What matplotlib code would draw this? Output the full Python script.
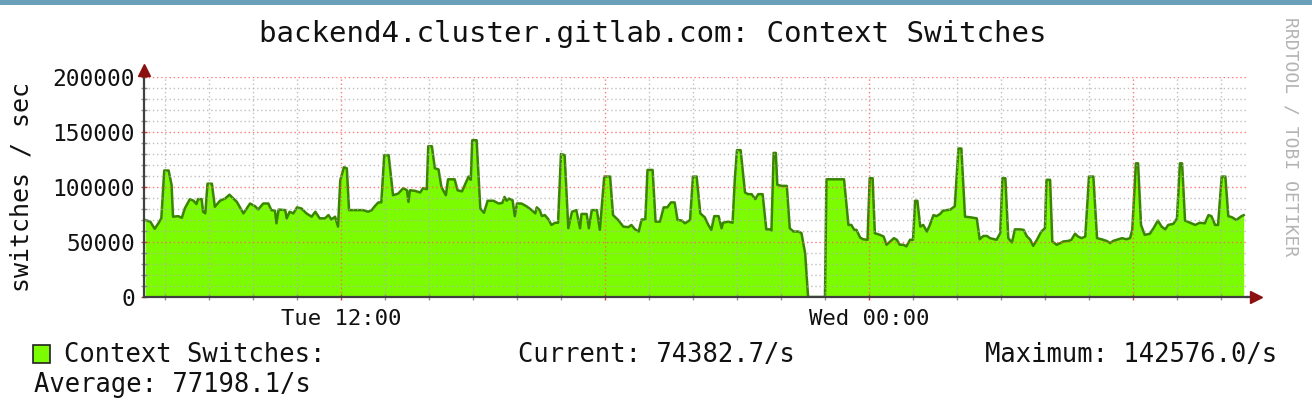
import matplotlib
matplotlib.use("Agg")
import matplotlib.pyplot as plt
from matplotlib.patches import Rectangle
from matplotlib.ticker import MultipleLocator, FixedLocator

# ---------------- data ----------------
title = "backend4.cluster.gitlab.com: Context Switches"
y_label = "switches / sec"
series_name = "Context Switches:"
current_txt = "Current: 74382.7/s"
average_txt = "Average: 77198.1/s"
maximum_txt = "Maximum: 142576.0/s"
watermark = "RRDTOOL / TOBI OETIKER"

# minutes since Tue 00:00
minutes = [453, 460, 466, 471, 475, 479, 485, 489, 491, 498, 503, 507, 514, 519, 523, 525, 530, 532, 535, 538,
           544, 548, 555, 562, 568, 571, 578, 587, 596, 603, 607, 614, 621, 625, 630, 632, 635, 644, 646, 650,
           655, 660, 666, 673, 680, 685, 691, 698, 703, 707, 712, 716, 719, 724, 728, 731, 741, 750, 757, 762,
           766, 771, 775, 779, 785, 791, 798, 805, 810, 812, 814, 821, 828, 832, 837, 839, 844, 848, 853, 857,
           863, 866, 875, 879, 885, 889, 894, 897, 899, 905, 910, 915, 920, 928, 935, 940, 943, 946, 949, 954,
           957, 960, 966, 973, 980, 985, 987, 991, 994, 998, 1003, 1007, 1012, 1016, 1020, 1025, 1030, 1035, 1041, 1046,
           1048, 1055, 1058, 1062, 1069, 1073, 1079, 1087, 1091, 1098, 1105, 1112, 1116, 1121, 1126, 1130, 1135, 1138, 1145, 1149,
           1155, 1160, 1165, 1170, 1175, 1179, 1185, 1189, 1196, 1200, 1205, 1210, 1216, 1221, 1225, 1229, 1235, 1239, 1241, 1248,
           1254, 1257, 1260, 1265, 1271, 1275, 1280, 1285, 1289, 1295, 1300, 1305, 1307, 1310, 1313, 1315, 1321, 1328, 1332, 1337,
           1344, 1348, 1353, 1357, 1380, 1382, 1406, 1412, 1416, 1420, 1423, 1428, 1432, 1438, 1441, 1445, 1448, 1455, 1460, 1464,
           1469, 1474, 1478, 1482, 1487, 1491, 1496, 1500, 1503, 1506, 1510, 1514, 1519, 1523, 1528, 1532, 1537, 1541, 1546, 1551,
           1557, 1562, 1566, 1571, 1578, 1587, 1591, 1596, 1601, 1605, 1614, 1619, 1622, 1626, 1630, 1635, 1639, 1646, 1651, 1655,
           1660, 1664, 1669, 1675, 1680, 1682, 1687, 1690, 1696, 1701, 1705, 1712, 1716, 1721, 1725, 1730, 1735, 1740, 1746, 1751,
           1757, 1764, 1769, 1773, 1778, 1785, 1791, 1796, 1799, 1804, 1807, 1811, 1816, 1823, 1828, 1834, 1839, 1844, 1848, 1855,
           1860, 1864, 1867, 1871, 1878, 1885, 1891, 1898, 1903, 1907, 1912, 1916, 1921, 1926, 1930, 1935, 1941, 1948, 1951]

switches = [70000, 68500, 62000, 67000, 71500, 115000, 115000, 102000, 73000, 73500, 72000, 80500, 89000, 87500, 84500, 89000, 89000, 77500, 76000, 103000,
            103000, 82000, 87500, 89500, 93000, 91000, 86500, 76000, 85000, 82500, 79500, 85000, 85000, 79000, 78500, 67000, 79500, 79000, 71500, 77500,
            76000, 81500, 80500, 76000, 73000, 77500, 71500, 71500, 74500, 70500, 73000, 64000, 106000, 118000, 117000, 79000, 79000, 79000, 77500, 79000,
            82500, 86000, 86000, 129000, 129000, 92500, 94000, 99000, 97000, 86500, 97000, 96500, 95000, 99000, 98000, 137000, 137000, 117000, 116000, 100000,
            92500, 107000, 107000, 97000, 96000, 102000, 109500, 106500, 142500, 142500, 80500, 76500, 87500, 87500, 85000, 85500, 91000, 87500, 89500, 88000,
            73500, 85000, 85000, 82500, 79000, 76000, 81500, 79000, 73500, 74500, 70500, 65500, 67500, 67500, 130000, 129000, 62500, 77500, 79000, 62500,
            75500, 75500, 62500, 79000, 79000, 61000, 109500, 109500, 74500, 70000, 64000, 63500, 65500, 61500, 59500, 70500, 70500, 115500, 115500, 68500,
            68500, 81500, 81500, 86000, 86000, 70000, 69500, 67000, 70000, 109500, 109500, 76000, 72500, 65500, 61000, 73500, 73500, 62500, 67500, 68500,
            67500, 106500, 133500, 133500, 95000, 93500, 93500, 89000, 93500, 93500, 61500, 61500, 60500, 131000, 131000, 102000, 101000, 101000, 62500, 59500,
            59500, 58000, 39500, 0, 0, 107000, 107000, 65500, 65500, 61000, 61000, 54000, 52500, 52000, 108000, 108000, 58000, 56500, 55000, 47500,
            50500, 53500, 52000, 47500, 47500, 46000, 52000, 52000, 87500, 87500, 64000, 65500, 59500, 65500, 74500, 73500, 75500, 78500, 79000, 79500,
            82500, 135000, 135000, 73000, 72500, 71500, 52500, 55500, 55500, 53500, 52000, 58000, 108000, 108000, 53500, 49500, 61500, 61500, 61000, 55500,
            52000, 46500, 52000, 59500, 62500, 106500, 106500, 50500, 47500, 49000, 50500, 51000, 52000, 57500, 55000, 53500, 55000, 109500, 109500, 53500,
            52500, 51000, 49000, 51000, 52000, 53500, 52500, 53500, 61000, 121500, 121500, 65500, 56500, 57500, 62500, 69500, 64000, 61500, 65500, 66500,
            71500, 121500, 121500, 69500, 67500, 65500, 67500, 67000, 74500, 73500, 65500, 65500, 109500, 109500, 73500, 72500, 70000, 73500, 74382]

y_ticks = [0, 50000, 100000, 150000, 200000]
y_tick_labels = ["0", "50000", "100000", "150000", "200000"]
x_major = [720, 1080, 1440, 1800]
x_major_labels = ["Tue 12:00", "", "Wed 00:00", ""]

# ---------------- layout ----------------
W, H = 1312, 416
fig = plt.figure(figsize=(W / 100, H / 100), dpi=100)
fig.patch.set_facecolor("white")
mono = "DejaVu Sans Mono"


def fx(px):
    return px / W


def fy(py):
    return 1 - py / H


# top blue strip
fig.add_artist(Rectangle((0, fy(5)), 1, 5 / H, transform=fig.transFigure,
                         facecolor="#6a9fb8", edgecolor="none"))

left, right, top, bottom = 144, 1247, 77, 297
ax = fig.add_axes([fx(left), fy(bottom), (right - left) / W, (bottom - top) / H])
ax.set_facecolor("white")

ax.fill_between(minutes, switches, 0, color="#7cfc00", lw=0, zorder=1)
ax.plot(minutes, switches, color="#3a8500", lw=1.8, zorder=2)

ax.set_xlim(451.4, 1955.5)
ax.set_ylim(0, 200000)

ax.yaxis.set_major_locator(FixedLocator(y_ticks))
ax.set_yticklabels(y_tick_labels)
ax.yaxis.set_minor_locator(MultipleLocator(10000))
ax.xaxis.set_major_locator(FixedLocator(x_major))
ax.set_xticklabels(x_major_labels)
ax.xaxis.set_minor_locator(MultipleLocator(60))

dots = (0, (1, 2))
ax.grid(which="minor", color="#b0b0b0", linestyle=dots, lw=1.0, alpha=0.8, zorder=3)
ax.grid(which="major", color="#ff6060", linestyle=dots, lw=1.0, alpha=0.85, zorder=3)
ax.set_axisbelow(False)

for s in ["top", "right"]:
    ax.spines[s].set_visible(False)
for s in ["left", "bottom"]:
    ax.spines[s].set_color("#404040")
    ax.spines[s].set_linewidth(1.6)
    ax.spines[s].set_zorder(5)

ax.tick_params(which="major", direction="inout", length=5, width=1, color="#d04040",
               labelsize=16.5, pad=4)
ax.tick_params(which="minor", direction="inout", length=4, width=1, color="#909090")
for lab in ax.get_xticklabels() + ax.get_yticklabels():
    lab.set_family(mono)
    lab.set_color("#111111")
ax.tick_params(axis="x", pad=6, labelsize=16)

# axis arrows
arrow_col = "#8b1010"
ax.plot([0, 0], [1, 1.03], transform=ax.transAxes, color="#404040", lw=1.6, clip_on=False, zorder=6)
ax.plot([0], [1.03], marker="^", markersize=9, color=arrow_col, transform=ax.transAxes,
        clip_on=False, zorder=7)
ax.plot([1, 1.008], [0, 0], transform=ax.transAxes, color="#404040", lw=1.6, clip_on=False, zorder=6)
ax.plot([1.008], [0], marker=">", markersize=9, color=arrow_col, transform=ax.transAxes,
        clip_on=False, zorder=7)

# title & labels
fig.text(fx(653), fy(34), title, family=mono, fontsize=21, ha="center", va="center", color="#111111")
fig.text(fx(22), fy(187), y_label, family=mono, fontsize=18, rotation=90, ha="center", va="center",
         color="#111111")
fig.text(fx(1291), fy(137), watermark, family=mono, fontsize=13, rotation=-90, ha="center",
         va="center", color="#b4b4b4")

# legend
fig.add_artist(Rectangle((fx(33), fy(363)), 17 / W, 18 / H, transform=fig.transFigure,
                         facecolor="#7cfc00", edgecolor="#222222", lw=1.2))
fs_leg = 18.4
fig.text(fx(64), fy(355), series_name, family=mono, fontsize=fs_leg, ha="left", va="center", color="#111111")
fig.text(fx(518), fy(355), current_txt, family=mono, fontsize=fs_leg, ha="left", va="center", color="#111111")
fig.text(fx(985), fy(355), maximum_txt, family=mono, fontsize=fs_leg, ha="left", va="center", color="#111111")
fig.text(fx(34), fy(385), average_txt, family=mono, fontsize=fs_leg, ha="left", va="center", color="#111111")

fig.savefig("out.png", dpi=100)
